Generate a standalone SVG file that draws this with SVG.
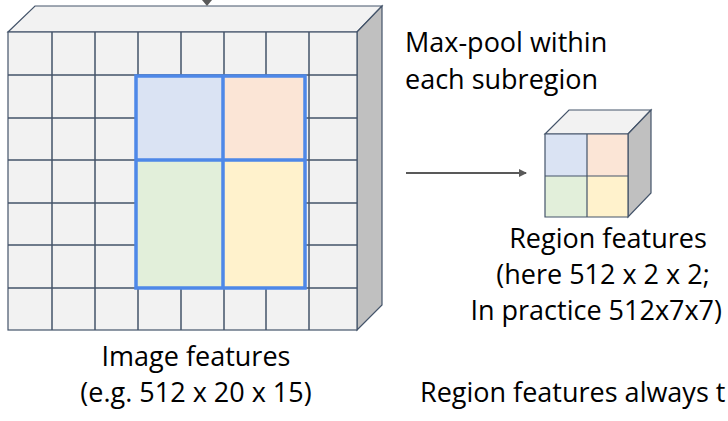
<svg xmlns="http://www.w3.org/2000/svg" width="728" height="421" viewBox="0 0 728 421">
<style>
.t{font-family:"Open Sans","Liberation Sans",sans-serif;font-size:27px;fill:#000}
.g{stroke:#44546a;stroke-width:1.5;fill:none}
.e{stroke:#44546a;stroke-width:1.2}
</style>
<defs><marker id="ah" markerWidth="8" markerHeight="8" refX="7" refY="4" orient="auto" markerUnits="userSpaceOnUse"><path d="M0,0 L8,4 L0,8z" fill="#595959"/></marker></defs>
<rect width="728" height="421" fill="#fff"/>
<g id="image-features">
<polygon points="8,32 35,6 382,6 357,32" fill="#f2f2f2" class="e"/>
<polygon points="357,32 382,6 382,305 357,330" fill="#c0c0c0" class="e"/>
<rect x="8" y="32" width="349" height="298" fill="#f2f2f2" class="e"/>
<path class="g" d="M52,32V330M95,32V330M138,32V330M181,32V330M224,32V330M266,32V330M309,32V330M8,75H357M8,118H357M8,160H357M8,203H357M8,245H357M8,288H357"/>
<rect x="137" y="77" width="86" height="83" fill="#dae3f3"/>
<rect x="223" y="77" width="81" height="83" fill="#fbe5d6"/>
<rect x="137" y="160" width="86" height="128" fill="#e2efda"/>
<rect x="223" y="160" width="81" height="128" fill="#fff2cc"/>
<path d="M136,76H305V288H136Z M223,76V288 M136,160H305" fill="none" stroke="#4e88e8" stroke-width="3.5"/>
<polygon points="202,0 212,0 207,6" fill="#595959"/>
<text class="t" x="196" y="366" text-anchor="middle">Image features</text>
<text class="t" x="196" y="402" text-anchor="middle">(e.g. 512 x 20 x 15)</text>
</g>
<g id="connectors">
<line x1="406" y1="173" x2="526" y2="173" stroke="#595959" stroke-width="2" marker-end="url(#ah)"/>
</g>
<g id="maxpool-label">
<text class="t" x="405" y="52">Max-pool within</text>
<text class="t" x="405" y="89">each subregion</text>
</g>
<g id="region-features">
<polygon points="545,134 569,110 651,110 628,134" fill="#f2f2f2" class="e"/>
<polygon points="628,134 651,110 651,193 628,217" fill="#c0c0c0" class="e"/>
<rect x="545" y="134" width="42" height="42" fill="#dae3f3"/>
<rect x="587" y="134" width="41" height="42" fill="#fbe5d6"/>
<rect x="545" y="176" width="42" height="41" fill="#e2efda"/>
<rect x="587" y="176" width="41" height="41" fill="#fff2cc"/>
<path d="M545,134H628V217H545Z M587,134V217 M545,176H628" fill="none" stroke="#44546a" stroke-width="1.2"/>
<text class="t" x="608" y="248" text-anchor="middle">Region features</text>
<text class="t" x="603" y="284" text-anchor="middle">(here 512 x 2 x 2;</text>
<text class="t" x="722" y="320" text-anchor="end">In practice 512x7x7)</text>
</g>
<g id="note">
<text class="t" x="420" y="402">Region features always t</text>
</g>
</svg>
